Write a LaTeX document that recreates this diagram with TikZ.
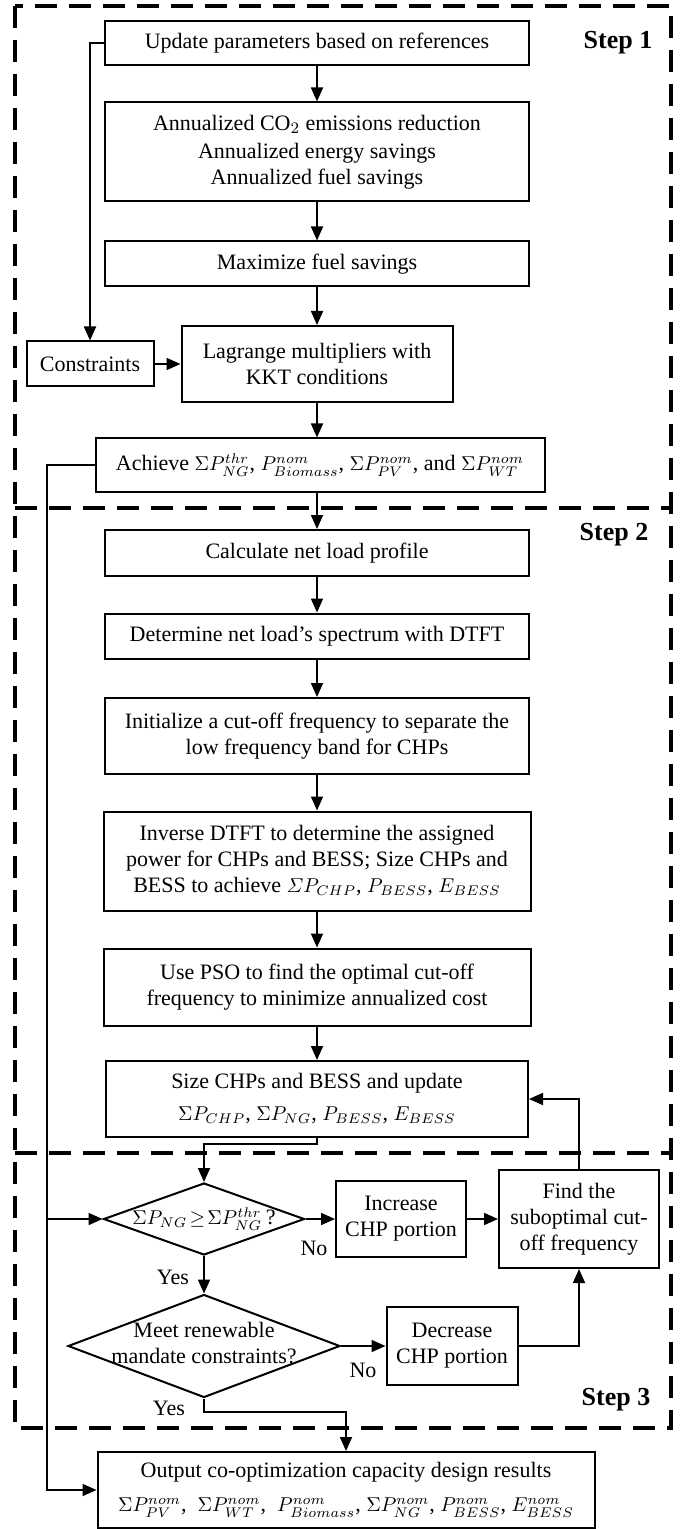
\documentclass[tikz,border=0pt]{standalone}
\usepackage{amsmath}
\usepackage{fontspec}
\setmainfont{Liberation Serif}
\usetikzlibrary{arrows.meta,shapes.geometric}
\newcommand\myfs{\fontsize{11}{13}\selectfont}
\newcommand\mth[1]{{\fontsize{10}{12}\selectfont$#1$}}
\begin{document}
\begin{tikzpicture}[x=0.5pt,y=-0.5pt,
  box/.style={draw,line width=1pt,inner sep=0pt,align=center,font=\myfs},
  dia/.style={draw,diamond,line width=1pt,inner sep=0pt},
  arr/.style={line width=0.9pt,-{Triangle[length=7pt,width=6pt]}},
  lbl/.style={inner sep=0pt,font=\myfs,align=center},
  stepl/.style={inner sep=0pt,font=\fontsize{13}{15}\selectfont\bfseries},
  border/.style={line width=1.6pt,dash pattern=on 11pt off 6pt}]
\useasboundingbox (0,0) rectangle (679,1529);
% step frames
\draw[border] (15,6) rectangle (671,1428);
\draw[border] (15,508) -- (671,508);
\draw[border] (15,1153) -- (671,1153);
\node[stepl] (s1l) at (618,43) {Step 1};
\node[stepl] (s2l) at (614,535) {Step 2};
\node[stepl] (s3l) at (616,1400) {Step 3};
% nodes
\node[box,minimum width=212pt,minimum height=22pt] (b1) at (317,43) {Update parameters based on references};
\node[box,minimum width=212pt,minimum height=49.5pt] (b2) at (317,152) {Annualized CO$_2$ emissions reduction\\[1pt]Annualized energy savings\\Annualized fuel savings};
\node[box,minimum width=212pt,minimum height=22.5pt] (b3) at (317,264) {Maximize fuel savings};
\node[box,minimum width=135.5pt,minimum height=38pt] (lag) at (317,364) {Lagrange multipliers with\\KKT conditions};
\node[box,minimum width=63.5pt,minimum height=22.5pt] (con) at (90,364) {Constraints};
\node[box,minimum width=224.5pt,minimum height=26.5pt] (ach) at (320,465) {Achieve \mth{\Sigma P_{NG}^{thr}}, \mth{P_{Biomass}^{nom}}, \mth{\Sigma P_{PV}^{nom}}, and \mth{\Sigma P_{WT}^{nom}}};
\node[box,minimum width=212pt,minimum height=23pt] (calc) at (317,553) {Calculate net load profile};
\node[box,minimum width=212pt,minimum height=22.5pt] (dtft) at (317,636) {Determine net load’s spectrum with DTFT};
\node[box,minimum width=212pt,minimum height=38pt] (init) at (317,736) {Initialize a cut-off frequency to separate the\\low frequency band for CHPs};
\node[box,minimum width=213.5pt,minimum height=49.5pt] (inv) at (317,861) {Inverse DTFT to determine the assigned\\power for CHPs and BESS; Size CHPs and\\BESS to achieve \mth{\varSigma P_{CHP}}, \mth{P_{BESS}}, \mth{E_{BESS}}};
\node[box,minimum width=213.5pt,minimum height=38.5pt] (pso) at (317,987) {Use PSO to find the optimal cut-off\\frequency to minimize annualized cost};
\node[box,minimum width=211pt,minimum height=38pt] (size) at (317,1099) {Size CHPs and BESS and update\\[3pt]\mth{\Sigma P_{CHP}}, \mth{\Sigma P_{NG}}, \mth{P_{BESS}}, \mth{E_{BESS}}};
\node[dia,minimum width=100.5pt,minimum height=36pt] (d1) at (204,1219) {};
\node[lbl] (d1t) at (204,1219) {\mth{\Sigma P_{NG}\!\geq\!\Sigma P_{NG}^{thr}}\,?};
\node[box,minimum width=65pt,minimum height=38pt] (inc) at (401,1219) {Increase\\CHP portion};
\node[box,minimum width=80pt,minimum height=49pt] (find) at (579,1219) {Find the\\suboptimal cut-\\off frequency};
\node[dia,minimum width=136pt,minimum height=51.5pt] (d2) at (204,1346) {};
\node[lbl] (d2t) at (204,1343) {Meet renewable\\mandate constraints?};
\node[box,minimum width=65.5pt,minimum height=39pt] (dec) at (452,1346) {Decrease\\CHP portion};
\node[box,minimum width=248.5pt,minimum height=38pt] (out) at (346,1490) {Output co-optimization capacity design results\\[4pt]\mth{\Sigma P_{PV}^{nom}}, \ \mth{\Sigma P_{WT}^{nom}}, \ \mth{P_{Biomass}^{nom}}, \mth{\Sigma P_{NG}^{nom}}, \mth{P_{BESS}^{nom}}, \mth{E_{BESS}^{nom}}};
% labels
\node[lbl] (no1) at (314,1248) {No};
\node[lbl] (no2) at (363,1370) {No};
\node[lbl] (yes1) at (173,1277) {Yes};
\node[lbl] (yes2) at (169,1408) {Yes};
% coordinates
\coordinate (lx) at (47,0);
\coordinate (s1) at (317,1144);
\coordinate (s2) at (204,1412);
% connectors
\draw[arr] (b1.south) -- (b2.north);
\draw[arr] (b2.south) -- (b3.north);
\draw[arr] (b3.south) -- (lag.north);
\draw[arr] (b1.west) -| (con.north);
\draw[arr] (con.east) -- (lag.west);
\draw[arr] (lag.south) -- (lag.south |- ach.north);
\draw[arr] (calc.north |- ach.south) -- (calc.north);
\draw[arr] (calc.south) -- (dtft.north);
\draw[arr] (dtft.south) -- (init.north);
\draw[arr] (init.south) -- (inv.north);
\draw[arr] (inv.south) -- (pso.north);
\draw[arr] (pso.south) -- (size.north);
\draw[arr] (ach.west) -| (lx |- out.west) -- (out.west);
\draw[arr] (lx |- d1.west) -- (d1.west);
\draw[arr] (size.south) -- (s1) -| (d1.north);
\draw[arr] (d1.east) -- (inc.west);
\draw[arr] (inc.east) -- (find.west);
\draw[arr] (find.north) |- (size.east);
\draw[arr] (d1.south) -- (d2.north);
\draw[arr] (d2.east) -- (dec.west);
\draw[arr] (dec.east) -| (find.south);
\draw[arr] (d2.south) -- (s2) -| (out.north);
\end{tikzpicture}
\end{document}
